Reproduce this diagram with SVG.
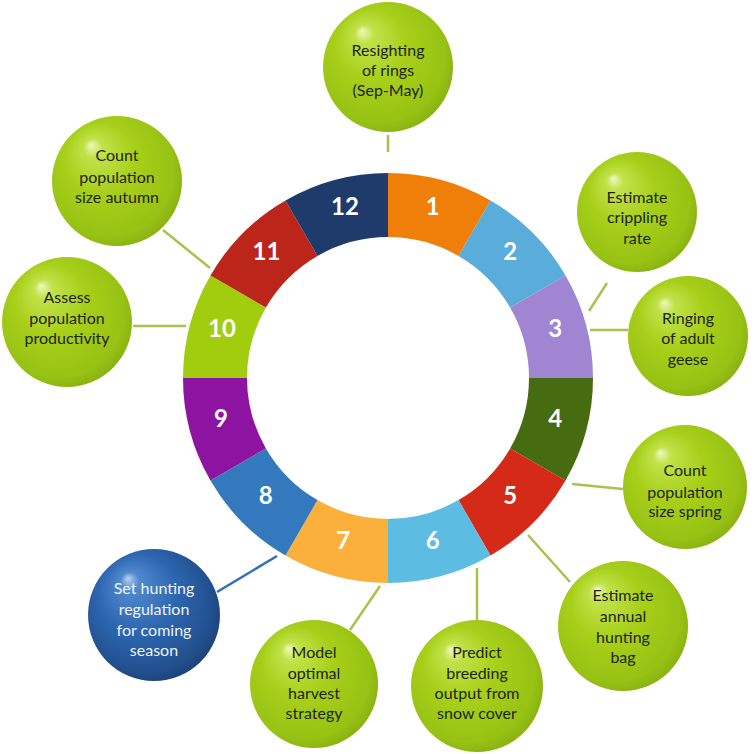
<svg xmlns="http://www.w3.org/2000/svg" width="756" height="754" viewBox="0 0 756 754">
<defs>
<radialGradient id="gGreen" cx="0.45" cy="0.45" r="0.6" fx="0.3" fy="0.22">
<stop offset="0" stop-color="#eef9c0"/>
<stop offset="0.12" stop-color="#c2e24a"/>
<stop offset="0.45" stop-color="#a8d01a"/>
<stop offset="0.85" stop-color="#98c214"/>
<stop offset="1" stop-color="#86ad12"/>
</radialGradient>
<radialGradient id="gBlue" cx="0.45" cy="0.45" r="0.6" fx="0.3" fy="0.22">
<stop offset="0" stop-color="#b8d0f0"/>
<stop offset="0.12" stop-color="#4f88cc"/>
<stop offset="0.5" stop-color="#2d66b0"/>
<stop offset="0.85" stop-color="#22508f"/>
<stop offset="1" stop-color="#1b3f72"/>
</radialGradient>
</defs>
<style>
.seg-label{font-family:Lato,"Liberation Sans",sans-serif;font-weight:bold;font-size:24px;fill:#ffffff;text-anchor:middle}
.bt{font-family:Lato,"Liberation Sans",sans-serif;font-size:16px;fill:#1e2414;text-anchor:middle}
.bt-w{font-family:Lato,"Liberation Sans",sans-serif;font-size:16px;fill:#eef3fb;text-anchor:middle}
.conn{stroke:#a7c34e;stroke-width:2.5;fill:none}
.conn-b{stroke:#3070b8;stroke-width:2.5;fill:none}
</style>
<rect width="756" height="754" fill="#ffffff"/>

<g id="connectors">
<line class="conn" x1="388" y1="135" x2="388" y2="152"/>
<line class="conn" x1="163" y1="230" x2="210" y2="268"/>
<line class="conn" x1="133" y1="326" x2="186" y2="326"/>
<line class="conn" x1="607" y1="283" x2="589" y2="311"/>
<line class="conn" x1="590" y1="330" x2="628" y2="330"/>
<line class="conn" x1="572" y1="484" x2="623" y2="489"/>
<line class="conn" x1="528" y1="535" x2="570" y2="582"/>
<line class="conn" x1="477" y1="568" x2="477" y2="620"/>
<line class="conn" x1="380" y1="586" x2="350" y2="630"/>
<line class="conn-b" x1="217" y1="592" x2="277" y2="556"/>
</g>

<g id="ring">
<g id="seg1"><path d="M388,173 A205,205 0 0 1 490.5,200.47 L458.5,255.89 A141,141 0 0 0 388,237 Z" fill="#f07f0a"/><text class="seg-label" x="432.8" y="215">1</text></g>
<g id="seg2"><path d="M490.5,200.47 A205,205 0 0 1 565.53,275.5 L510.11,307.5 A141,141 0 0 0 458.5,255.89 Z" fill="#5aaddb"/><text class="seg-label" x="510.3" y="260">2</text></g>
<g id="seg3"><path d="M565.53,275.5 A205,205 0 0 1 593,378 L529,378 A141,141 0 0 0 510.11,307.5 Z" fill="#a085d2"/><text class="seg-label" x="555.1" y="337">3</text></g>
<g id="seg4"><path d="M593,378 A205,205 0 0 1 565.53,480.5 L510.11,448.5 A141,141 0 0 0 529,378 Z" fill="#476b10"/><text class="seg-label" x="555.1" y="427">4</text></g>
<g id="seg5"><path d="M565.53,480.5 A205,205 0 0 1 490.5,555.53 L458.5,500.11 A141,141 0 0 0 510.11,448.5 Z" fill="#d52a18"/><text class="seg-label" x="510.3" y="504">5</text></g>
<g id="seg6"><path d="M490.5,555.53 A205,205 0 0 1 388,583 L388,519 A141,141 0 0 0 458.5,500.11 Z" fill="#5cbce2"/><text class="seg-label" x="432.8" y="549">6</text></g>
<g id="seg7"><path d="M388,583 A205,205 0 0 1 285.5,555.53 L317.5,500.11 A141,141 0 0 0 388,519 Z" fill="#fbb03c"/><text class="seg-label" x="343.2" y="549">7</text></g>
<g id="seg8"><path d="M285.5,555.53 A205,205 0 0 1 210.47,480.5 L265.89,448.5 A141,141 0 0 0 317.5,500.11 Z" fill="#3479be"/><text class="seg-label" x="265.7" y="504">8</text></g>
<g id="seg9"><path d="M210.47,480.5 A205,205 0 0 1 183,378 L247,378 A141,141 0 0 0 265.89,448.5 Z" fill="#8c14a0"/><text class="seg-label" x="220.9" y="427">9</text></g>
<g id="seg10"><path d="M183,378 A205,205 0 0 1 210.47,275.5 L265.89,307.5 A141,141 0 0 0 247,378 Z" fill="#a2cc0e"/><text class="seg-label" x="222" y="337">10</text></g>
<g id="seg11"><path d="M210.47,275.5 A205,205 0 0 1 285.5,200.47 L317.5,255.89 A141,141 0 0 0 265.89,307.5 Z" fill="#bc261a"/><text class="seg-label" x="266.5" y="260">11</text></g>
<g id="seg12"><path d="M285.5,200.47 A205,205 0 0 1 388,173 L388,237 A141,141 0 0 0 317.5,255.89 Z" fill="#1e3b6b"/><text class="seg-label" x="345" y="215">12</text></g>
</g>

<g id="n-resighting"><circle cx="388" cy="67" r="65" fill="url(#gGreen)"/>
<text class="bt" x="388" y="56">Resighting</text><text class="bt" x="388" y="76">of rings</text><text class="bt" x="388" y="96">(Sep-May)</text></g>

<g id="n-count-autumn"><circle cx="117" cy="181" r="65" fill="url(#gGreen)"/>
<text class="bt" x="117" y="161">Count</text><text class="bt" x="117" y="183">population</text><text class="bt" x="117" y="203">size autumn</text></g>

<g id="n-assess"><circle cx="67" cy="322" r="65" fill="url(#gGreen)"/>
<text class="bt" x="67" y="303">Assess</text><text class="bt" x="67" y="324">population</text><text class="bt" x="67" y="344">productivity</text></g>

<g id="n-crippling"><circle cx="637" cy="212" r="60" fill="url(#gGreen)"/>
<text class="bt" x="637" y="203">Estimate</text><text class="bt" x="637" y="223">crippling</text><text class="bt" x="637" y="244">rate</text></g>

<g id="n-ringing"><circle cx="688" cy="336" r="60" fill="url(#gGreen)"/>
<text class="bt" x="688" y="324">Ringing</text><text class="bt" x="688" y="344">of adult</text><text class="bt" x="688" y="365">geese</text></g>

<g id="n-count-spring"><circle cx="685" cy="487" r="62" fill="url(#gGreen)"/>
<text class="bt" x="685" y="476">Count</text><text class="bt" x="685" y="498">population</text><text class="bt" x="685" y="517">size spring</text></g>

<g id="n-bag"><circle cx="623" cy="626" r="65" fill="url(#gGreen)"/>
<text class="bt" x="623" y="601">Estimate</text><text class="bt" x="623" y="622">annual</text><text class="bt" x="623" y="643">hunting</text><text class="bt" x="623" y="663">bag</text></g>

<g id="n-predict"><circle cx="477" cy="686" r="66" fill="url(#gGreen)"/>
<text class="bt" x="477" y="658">Predict</text><text class="bt" x="477" y="679">breeding</text><text class="bt" x="477" y="699">output from</text><text class="bt" x="477" y="719">snow cover</text></g>

<g id="n-model"><circle cx="314" cy="684" r="64" fill="url(#gGreen)"/>
<text class="bt" x="314" y="658">Model</text><text class="bt" x="314" y="679">optimal</text><text class="bt" x="314" y="699">harvest</text><text class="bt" x="314" y="719">strategy</text></g>

<g id="n-regulation"><circle cx="154" cy="615" r="66" fill="url(#gBlue)"/>
<text class="bt-w" x="154" y="594">Set hunting</text><text class="bt-w" x="154" y="615">regulation</text><text class="bt-w" x="154" y="636">for coming</text><text class="bt-w" x="154" y="656">season</text></g>
</svg>
